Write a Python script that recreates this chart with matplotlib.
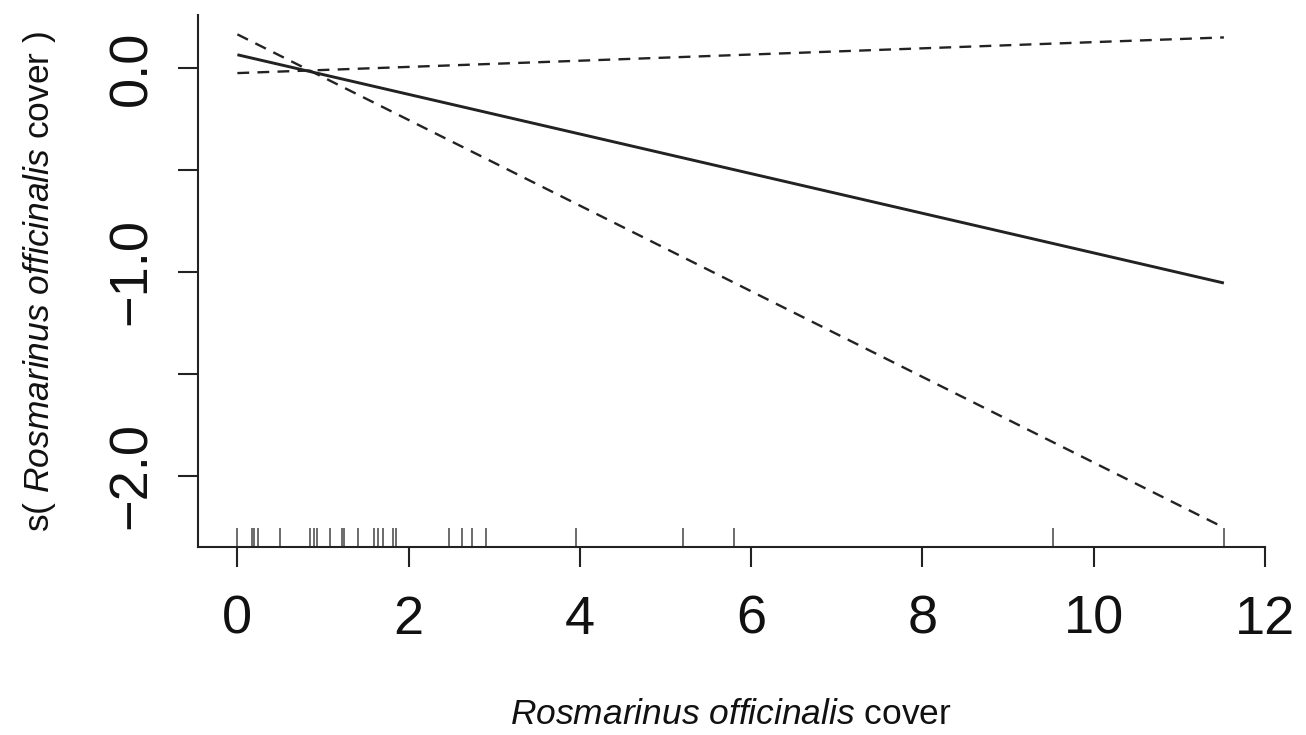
import matplotlib
matplotlib.use("Agg")
import matplotlib.pyplot as plt
import numpy as np

# Data
x_grid = [0.0, 11.52]
fit = [0.065, -1.055]
band_a = [0.165, -2.255]
band_b = [-0.025, 0.150]
rug_x = [0.0, 0.17, 0.19, 0.24, 0.50, 0.85, 0.89, 0.93, 1.08, 1.22, 1.25,
         1.41, 1.60, 1.64, 1.70, 1.82, 1.85, 2.47, 2.62, 2.74, 2.90, 3.95,
         5.20, 5.80, 9.53, 11.52]
x_ticks = [0, 2, 4, 6, 8, 10, 12]
y_ticks = [0.0, -1.0, -2.0]
y_minor = [-0.5, -1.5]
y_ticklabels = ["0.0", "\u22121.0", "\u22122.0"]

plt.rcParams['font.family'] = ['Liberation Sans', 'DejaVu Sans']
plt.rcParams['mathtext.fontset'] = 'custom'
plt.rcParams['mathtext.rm'] = 'Liberation Sans'
plt.rcParams['mathtext.it'] = 'Liberation Sans:italic'

fig = plt.figure(figsize=(13.06, 7.35), dpi=100)
ax = fig.add_axes([198/1306, 1-547/735, (1265-198)/1306, (547-15)/735])

col = '#222222'
ax.plot(x_grid, fit, color=col, lw=2.1, solid_capstyle='butt')
ax.plot(x_grid, band_a, color=col, lw=1.7, dashes=(5, 3.5))
ax.plot(x_grid, band_b, color=col, lw=1.7, dashes=(5, 3.5))

# rug
ax.vlines(rug_x, 0, 0.035, transform=ax.get_xaxis_transform(),
          color='#444444', lw=1.1)

ax.set_xlim(-0.46, 11.98)
ax.set_ylim(-2.35, 0.26)

for s in ['top', 'right']:
    ax.spines[s].set_visible(False)
for s in ['left', 'bottom']:
    ax.spines[s].set_linewidth(1.5)
    ax.spines[s].set_color(col)

ax.set_xticks(x_ticks)
ax.set_xticklabels([str(t) for t in x_ticks])
ax.set_yticks(y_ticks)
ax.set_yticklabels(y_ticklabels, rotation=90, va='center')
ax.set_yticks(y_minor, minor=True)
ax.tick_params(axis='both', which='both', length=14.5, width=1.5, color=col,
               labelsize=39, labelcolor='#111111')
ax.tick_params(axis='x', pad=20)
ax.tick_params(axis='y', pad=15)

fig.text(731/1306, 1-714/735, r"$\mathit{Rosmarinus\ officinalis}$ cover",
         ha='center', va='center', fontsize=25.5, color='#111111')
fig.text(40/1306, 1-281/735, r"s( $\mathit{Rosmarinus\ officinalis}$ cover )",
         ha='center', va='center', rotation=90, fontsize=25.5, color='#111111')

fig.savefig("out.png", dpi=100)
